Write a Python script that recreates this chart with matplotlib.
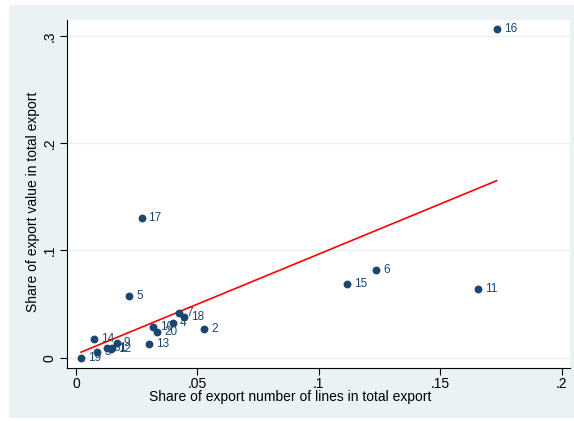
import matplotlib
matplotlib.use("Agg")
import matplotlib.pyplot as plt
import numpy as np
from matplotlib.patches import Rectangle

plt.rcParams['font.family'] = ['Liberation Sans', 'DejaVu Sans']

labels = [1, 2, 3, 4, 5, 6, 7, 8, 9, 10, 11, 12, 13, 14, 15, 16, 17, 18, 19, 20]
share_lines = [0.0150, 0.0528, 0.0088, 0.0398, 0.0219, 0.1235, 0.0426, 0.0126, 0.0168, 0.0318,
               0.1655, 0.0143, 0.0301, 0.0074, 0.1116, 0.1732, 0.0270, 0.0446, 0.0021, 0.0335]
share_value = [0.0087, 0.0265, 0.0050, 0.0326, 0.0578, 0.0816, 0.0420, 0.0093, 0.0134, 0.0289,
               0.0639, 0.0084, 0.0125, 0.0174, 0.0687, 0.3063, 0.1306, 0.0377, 0.0000, 0.0237]
xticks = [0, 0.05, 0.1, 0.15, 0.2]
xticklabels = ["0", ".05", ".1", ".15", ".2"]
yticks = [0, 0.1, 0.2, 0.3]
yticklabels = ["0", ".1", ".2", ".3"]

W, H = 574, 421
fig = plt.figure(figsize=(W / 100, H / 100), dpi=100, facecolor='white')
bg = '#EAF2F3'
rect = Rectangle((9 / W, 3 / H), 1 - 9 / W, (416 - 3) / H,
                 transform=fig.transFigure, facecolor=bg, edgecolor='none', zorder=-5)
fig.add_artist(rect)

left, right, top, bottom = 66.7, 570, 20, 367.5
ax = fig.add_axes([left / W, 1 - bottom / H, (right - left) / W, (bottom - top) / H])
ax.set_zorder(2)
ax.set_facecolor('white')

x = np.array(share_lines)
y = np.array(share_value)
navy = '#1A476F'
ax.scatter(x, y, s=32, color=navy, zorder=3, linewidths=0)
for xi, yi, lab in zip(x, y, labels):
    ax.annotate(str(lab), (xi, yi), xytext=(5, 0), textcoords='offset points',
                ha='left', va='center', fontsize=8.5, color=navy, zorder=4)

b, a = np.polyfit(x, y, 1)
xs = np.array([x.min(), x.max()])
ax.plot(xs, a + b * xs, color='red', lw=1.2, zorder=2)

ax.set_xlim(-0.00383, 0.2034)
ax.set_ylim(-0.00914, 0.3149)
ax.set_xticks(xticks)
ax.set_xticklabels(xticklabels, fontsize=10)
ax.set_yticks(yticks)
ax.set_yticklabels(yticklabels, fontsize=10, rotation=90, va='center')
ax.tick_params(direction='out', length=5, width=0.8, color='black', pad=2)
ax.grid(axis='y', color=bg, lw=1.0, zorder=0)
ax.set_axisbelow(True)
for s in ['top', 'right']:
    ax.spines[s].set_visible(False)
for s in ['left', 'bottom']:
    ax.spines[s].set_linewidth(0.8)
fig.text(290 / W, 1 - 397 / H, "Share of export number of lines in total export",
         fontsize=10, ha='center', va='center')
fig.text(33 / W, 1 - 202 / H, "Share of export value in total export",
         fontsize=10, ha='center', va='center', rotation=90)

fig.savefig("out.png", dpi=100, facecolor='white')
